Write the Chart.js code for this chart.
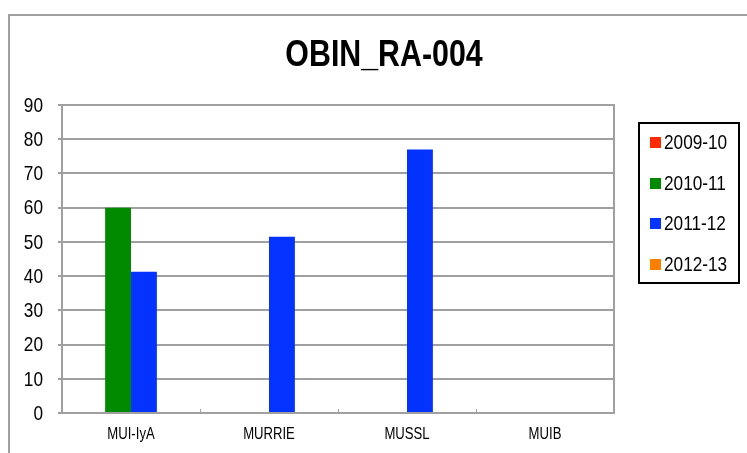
<!DOCTYPE html>
<html>
<head>
<meta charset="utf-8">
<script src="https://cdn.jsdelivr.net/npm/chart.js@4/dist/chart.umd.min.js"></script>
<style>
  html, body { margin: 0; padding: 0; background: #fff; }
  #wrap { width: 747px; height: 453px; }
</style>
</head>
<body>
<div id="wrap"><canvas id="chart" width="747" height="453"></canvas></div>
<script>
// Chart data
const categories = ['MUI-IyA', 'MURRIE', 'MUSSL', 'MUIB'];
const seriesNames = ['2009-10', '2010-11', '2011-12', '2012-13'];
const values0910 = [null, null, null, null];
const values1011 = [60, null, null, null];
const values1112 = [41.3, 51.5, 77, null];
const values1213 = [null, null, null, null];
const yTicks = [0, 10, 20, 30, 40, 50, 60, 70, 80, 90];
const chartTitle = 'OBIN_RA-004';

const seriesColors = ['#ff2a00', '#008a00', '#0433ff', '#ff8000'];
const gridGray = '#a0a0a0';
const fontFamily = '"Liberation Sans", Arial, sans-serif';
const squeeze = 0.82; // the original text is a narrow face

// draws condensed text (no narrow font installed)
function narrowText(ctx, text, x, y, font, align) {
  ctx.save();
  ctx.font = font;
  ctx.textAlign = align;
  ctx.textBaseline = 'middle';
  ctx.fillStyle = '#000';
  ctx.translate(x, y);
  ctx.scale(squeeze, 1);
  ctx.fillText(text, 0, 0);
  ctx.restore();
}

// Outer frame, title, labels, plot border, x tick marks and the boxed legend
const decorPlugin = {
  id: 'decor',
  beforeDraw: function (chart) {
    const ctx = chart.ctx;
    ctx.save();
    ctx.strokeStyle = gridGray;
    ctx.lineWidth = 2;
    ctx.strokeRect(9, 15, 760, 460);
    ctx.restore();
  },
  afterDraw: function (chart) {
    const ctx = chart.ctx;
    const area = chart.chartArea;
    const xs = chart.scales.x;
    const ys = chart.scales.y;

    narrowText(ctx, chartTitle, 384, 56, 'bold 37px ' + fontFamily, 'center');

    // axis labels
    yTicks.forEach(function (v) {
      narrowText(ctx, String(v), 43, ys.getPixelForValue(v) + 1, '21px ' + fontFamily, 'right');
    });
    categories.forEach(function (c, i) {
      narrowText(ctx, c, xs.getPixelForValue(i), 435, '16px ' + fontFamily, 'center');
    });

    ctx.save();
    ctx.strokeStyle = gridGray;
    ctx.lineWidth = 2;
    ctx.strokeRect(area.left, area.top, area.right - area.left, area.bottom - area.top);
    // small category separators on the x axis
    ctx.lineWidth = 1;
    for (let i = 1; i < categories.length; i++) {
      let x = Math.round((xs.getPixelForValue(i - 1) + xs.getPixelForValue(i)) / 2) + 0.5;
      ctx.beginPath();
      ctx.moveTo(x, area.bottom - 4);
      ctx.lineTo(x, area.bottom);
      ctx.stroke();
    }
    // legend
    ctx.strokeStyle = '#000';
    ctx.lineWidth = 2;
    ctx.strokeRect(639, 123, 100, 160);
    const rowY = [143, 184, 224, 265];
    chart.data.datasets.forEach(function (ds, i) {
      ctx.fillStyle = ds.backgroundColor;
      ctx.fillRect(650, rowY[i] - 6, 11, 11);
      narrowText(ctx, ds.label, 664, rowY[i], '21px ' + fontFamily, 'left');
    });
    ctx.restore();
  },
};

const datasets = [values0910, values1011, values1112, values1213].map(function (vals, i) {
  return {
    label: seriesNames[i],
    data: vals,
    backgroundColor: seriesColors[i],
    borderWidth: 0,
    categoryPercentage: 0.75,
    barPercentage: 1.0,
  };
});

new Chart(document.getElementById('chart'), {
  type: 'bar',
  data: { labels: categories, datasets: datasets },
  plugins: [decorPlugin],
  options: {
    responsive: false,
    animation: false,
    layout: { padding: { left: 0, right: 133, top: 105, bottom: 0 } },
    plugins: {
      legend: { display: false },
      tooltip: { enabled: false },
      title: { display: false },
    },
    scales: {
      x: {
        grid: { display: false },
        border: { display: false },
        ticks: { display: false },
        afterFit: function (scale) { scale.height = 40; },
      },
      y: {
        min: 0,
        max: 90,
        afterBuildTicks: function (scale) {
          scale.ticks = yTicks.map(function (v) { return { value: v }; });
        },
        grid: { color: gridGray, lineWidth: 2, tickLength: 4 },
        border: { color: gridGray, width: 2 },
        ticks: { display: false },
        afterFit: function (scale) { scale.width = 62; },
      },
    },
  },
});
</script>
</body>
</html>
